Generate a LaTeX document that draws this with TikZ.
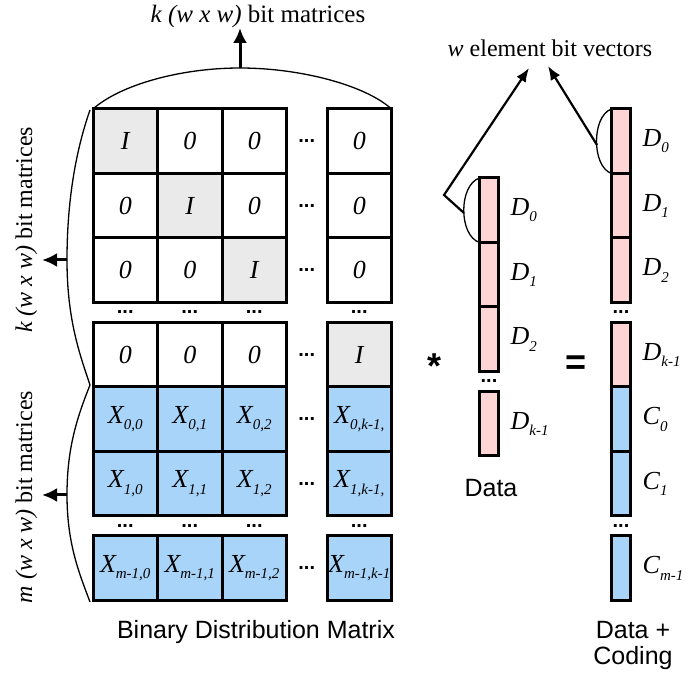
\documentclass[tikz,border=0pt]{standalone}
\usepackage{fontspec}
\setmainfont{Liberation Serif}
\setsansfont{Liberation Sans}
\usepackage{tikz}
\usepackage{xcolor}
\usetikzlibrary{arrows.meta,positioning,calc}

\definecolor{idgray}{RGB}{234,234,234}
\definecolor{codeblue}{RGB}{168,212,250}
\definecolor{datapink}{RGB}{255,212,212}

\newcommand{\cellsub}[2]{#1\raisebox{-0.25em}{\fontsize{15}{15}\selectfont #2}}

\tikzset{
    cell/.style={draw=black, line width=3pt, minimum width=64.5pt, minimum height=64.5pt, inner sep=0pt, outer sep=0pt, font=\fontsize{26}{26}\selectfont\itshape},
    idcell/.style={cell, fill=idgray},
    xcell/.style={cell, fill=codeblue},
    vec/.style={draw=black, line width=3pt, minimum width=19pt, minimum height=64.5pt, inner sep=0pt, outer sep=0pt},
    dvec/.style={vec, fill=datapink},
    cvec/.style={vec, fill=codeblue},
    vlab/.style={inner sep=0pt, font=\fontsize{26}{26}\selectfont\itshape},
    gapdots/.style={inner sep=0pt, font=\fontsize{20}{20}\selectfont\sffamily\bfseries},
    lab/.style={inner sep=0pt, font=\fontsize{24}{24}\selectfont},
    sflab/.style={inner sep=0pt, font=\fontsize{25}{26}\selectfont\sffamily, align=center},
    oplab/.style={inner sep=0pt, font=\fontsize{36}{36}\selectfont\sffamily\bfseries},
    brace/.style={black, line width=1.3pt},
    arr/.style={black, line width=3pt, -{Latex[length=15pt,width=14pt]}},
    thinarr/.style={black, line width=2.2pt, -{Latex[length=14pt,width=11pt]}}
}

\begin{document}
\begin{tikzpicture}[x=1pt,y=-1pt]
    \useasboundingbox (0,0) rectangle (689,676);

    \node[idcell] (m11) at (125.25,141.25) {I};
    \node[cell, right=0pt of m11] (m12) {0};
    \node[cell, right=0pt of m12] (m13) {0};
    \node[cell, right=40.5pt of m13] (m14) {0};

    \node[cell, below=0pt of m11] (m21) {0};
    \node[idcell, right=0pt of m21] (m22) {I};
    \node[cell, right=0pt of m22] (m23) {0};
    \node[cell, right=40.5pt of m23] (m24) {0};

    \node[cell, below=0pt of m21] (m31) {0};
    \node[cell, right=0pt of m31] (m32) {0};
    \node[idcell, right=0pt of m32] (m33) {I};
    \node[cell, right=40.5pt of m33] (m34) {0};

    \node[cell, below=20pt of m31] (m41) {0};
    \node[cell, right=0pt of m41] (m42) {0};
    \node[cell, right=0pt of m42] (m43) {0};
    \node[idcell, right=40.5pt of m43] (m44) {I};

    \node[xcell, below=0pt of m41] (m51) {\cellsub{X}{0,0}};
    \node[xcell, right=0pt of m51] (m52) {\cellsub{X}{0,1}};
    \node[xcell, right=0pt of m52] (m53) {\cellsub{X}{0,2}};
    \node[xcell, right=40.5pt of m53] (m54) {\cellsub{X}{0,k-1,}};

    \node[xcell, below=0pt of m51] (m61) {\cellsub{X}{1,0}};
    \node[xcell, right=0pt of m61] (m62) {\cellsub{X}{1,1}};
    \node[xcell, right=0pt of m62] (m63) {\cellsub{X}{1,2}};
    \node[xcell, right=40.5pt of m63] (m64) {\cellsub{X}{1,k-1,}};

    \node[xcell, below=20pt of m61] (m71) {\cellsub{X}{m-1,0}};
    \node[xcell, right=0pt of m71] (m72) {\cellsub{X}{m-1,1}};
    \node[xcell, right=0pt of m72] (m73) {\cellsub{X}{m-1,2}};
    \node[xcell, right=40.5pt of m73] (m74) {\cellsub{X}{m-1,k-1}};

    \node[gapdots] (h1) at ($(m13)!0.5!(m14)$) {...};
    \node[gapdots] (h2) at ($(m23)!0.5!(m24)$) {...};
    \node[gapdots] (h3) at ($(m33)!0.5!(m34)$) {...};
    \node[gapdots] (h4) at ($(m43)!0.5!(m44)$) {...};
    \node[gapdots] (h5) at ($(m53)!0.5!(m54)$) {...};
    \node[gapdots] (h6) at ($(m63)!0.5!(m64)$) {...};
    \node[gapdots] (h7) at ($(m73)!0.5!(m74)$) {...};

    \node[gapdots] (g1) at ($(m31)!0.5!(m41)$) {...};
    \node[gapdots] (g2) at ($(m32)!0.5!(m42)$) {...};
    \node[gapdots] (g3) at ($(m33)!0.5!(m43)$) {...};
    \node[gapdots] (g4) at ($(m34)!0.5!(m44)$) {...};
    \node[gapdots] (g5) at ($(m61)!0.5!(m71)$) {...};
    \node[gapdots] (g6) at ($(m62)!0.5!(m72)$) {...};
    \node[gapdots] (g7) at ($(m63)!0.5!(m73)$) {...};
    \node[gapdots] (g8) at ($(m64)!0.5!(m74)$) {...};

    \node[dvec] (d1) at (489,210.25) {};
    \node[dvec, below=0pt of d1] (d2) {};
    \node[dvec, below=0pt of d2] (d3) {};
    \node[dvec, below=20pt of d3] (d4) {};
    \node[gapdots] (dg) at ($(d3)!0.5!(d4)$) {...};

    \node[vlab, right=12pt of d1] (ld1) {\cellsub{D}{0}};
    \node[vlab, right=12pt of d2] (ld2) {\cellsub{D}{1}};
    \node[vlab, right=12pt of d3] (ld3) {\cellsub{D}{2}};
    \node[vlab, right=12pt of d4] (ld4) {\cellsub{D}{k-1}};

    \node[dvec] (v1) at (621,141.25) {};
    \node[dvec, below=0pt of v1] (v2) {};
    \node[dvec, below=0pt of v2] (v3) {};
    \node[dvec, below=20pt of v3] (v4) {};
    \node[cvec, below=0pt of v4] (v5) {};
    \node[cvec, below=0pt of v5] (v6) {};
    \node[cvec, below=20pt of v6] (v7) {};
    \node[gapdots] (vg1) at ($(v3)!0.5!(v4)$) {...};
    \node[gapdots] (vg2) at ($(v6)!0.5!(v7)$) {...};

    \node[vlab, right=12pt of v1] (lv1) {\cellsub{D}{0}};
    \node[vlab, right=12pt of v2] (lv2) {\cellsub{D}{1}};
    \node[vlab, right=12pt of v3] (lv3) {\cellsub{D}{2}};
    \node[vlab, right=12pt of v4] (lv4) {\cellsub{D}{k-1}};
    \node[vlab, right=12pt of v5] (lv5) {\cellsub{C}{0}};
    \node[vlab, right=12pt of v6] (lv6) {\cellsub{C}{1}};
    \node[vlab, right=12pt of v7] (lv7) {\cellsub{C}{m-1}};

    \node[oplab, anchor=base] (times) at (435,379) {*};
    \node[oplab, anchor=base] (equals) at (576,375) {=};

    \node[lab, font=\fontsize{25}{25}\selectfont, anchor=base] (toplab) at (258,23) {\textit{k (w x w)} bit matrices};
    \node[lab, rotate=90, anchor=base] (klab) at (32,230) {\textit{k (w x w)} bit matrices};
    \node[lab, rotate=90, anchor=base] (mlab) at (32,497) {\textit{m (w x w)} bit matrices};
    \node[lab, anchor=base] (wlab) at (550,57) {\textit{w} element bit vectors};

    \node[sflab, anchor=base] (bdm) at (256,638) {Binary Distribution Matrix};
    \node[sflab, anchor=base] (datalab) at (491,497) {Data};
    \node[sflab, anchor=north] (codelab) at (633,621) {Data +\\Coding};

    \coordinate (topapex) at (240,68);
    \coordinate (topend) at (240,28);
    \draw[brace] (m11.north west) .. controls (120,85) and (180,68) .. (topapex) .. controls (300,68) and (365,85) .. (m14.north east);
    \draw[arr] (topapex) -- (topend);

    \coordinate (ltop) at (90,110);
    \coordinate (lmid) at (90,385);
    \coordinate (lbot) at (90,602);
    \coordinate (kapex) at (67,260);
    \coordinate (mapex) at (67,495);
    \coordinate (kend) at (42,260);
    \coordinate (mend) at (42,495);
    \draw[brace] (ltop) .. controls (76,150) and (67,200) .. (kapex) .. controls (67,320) and (80,355) .. (lmid) .. controls (76,420) and (67,450) .. (mapex) .. controls (67,545) and (80,575) .. (lbot);
    \draw[arr] (kapex) -- (kend);
    \draw[arr] (mapex) -- (mend);

    \coordinate (dstart) at (464,213);
    \coordinate (dbend) at (444,195);
    \coordinate (dtip) at (529,68);
    \draw[brace] (d1.north west) .. controls +(-21,7) and +(-21,-7) .. (d1.south west);
    \draw[thinarr] (dstart) -- (dbend) -- (dtip);

    \coordinate (vstart) at (597,145);
    \coordinate (vtip) at (548,66);
    \draw[brace] (v1.north west) .. controls +(-20,7) and +(-20,-7) .. (v1.south west);
    \draw[thinarr] (vstart) -- (vtip);

\end{tikzpicture}
\end{document}
